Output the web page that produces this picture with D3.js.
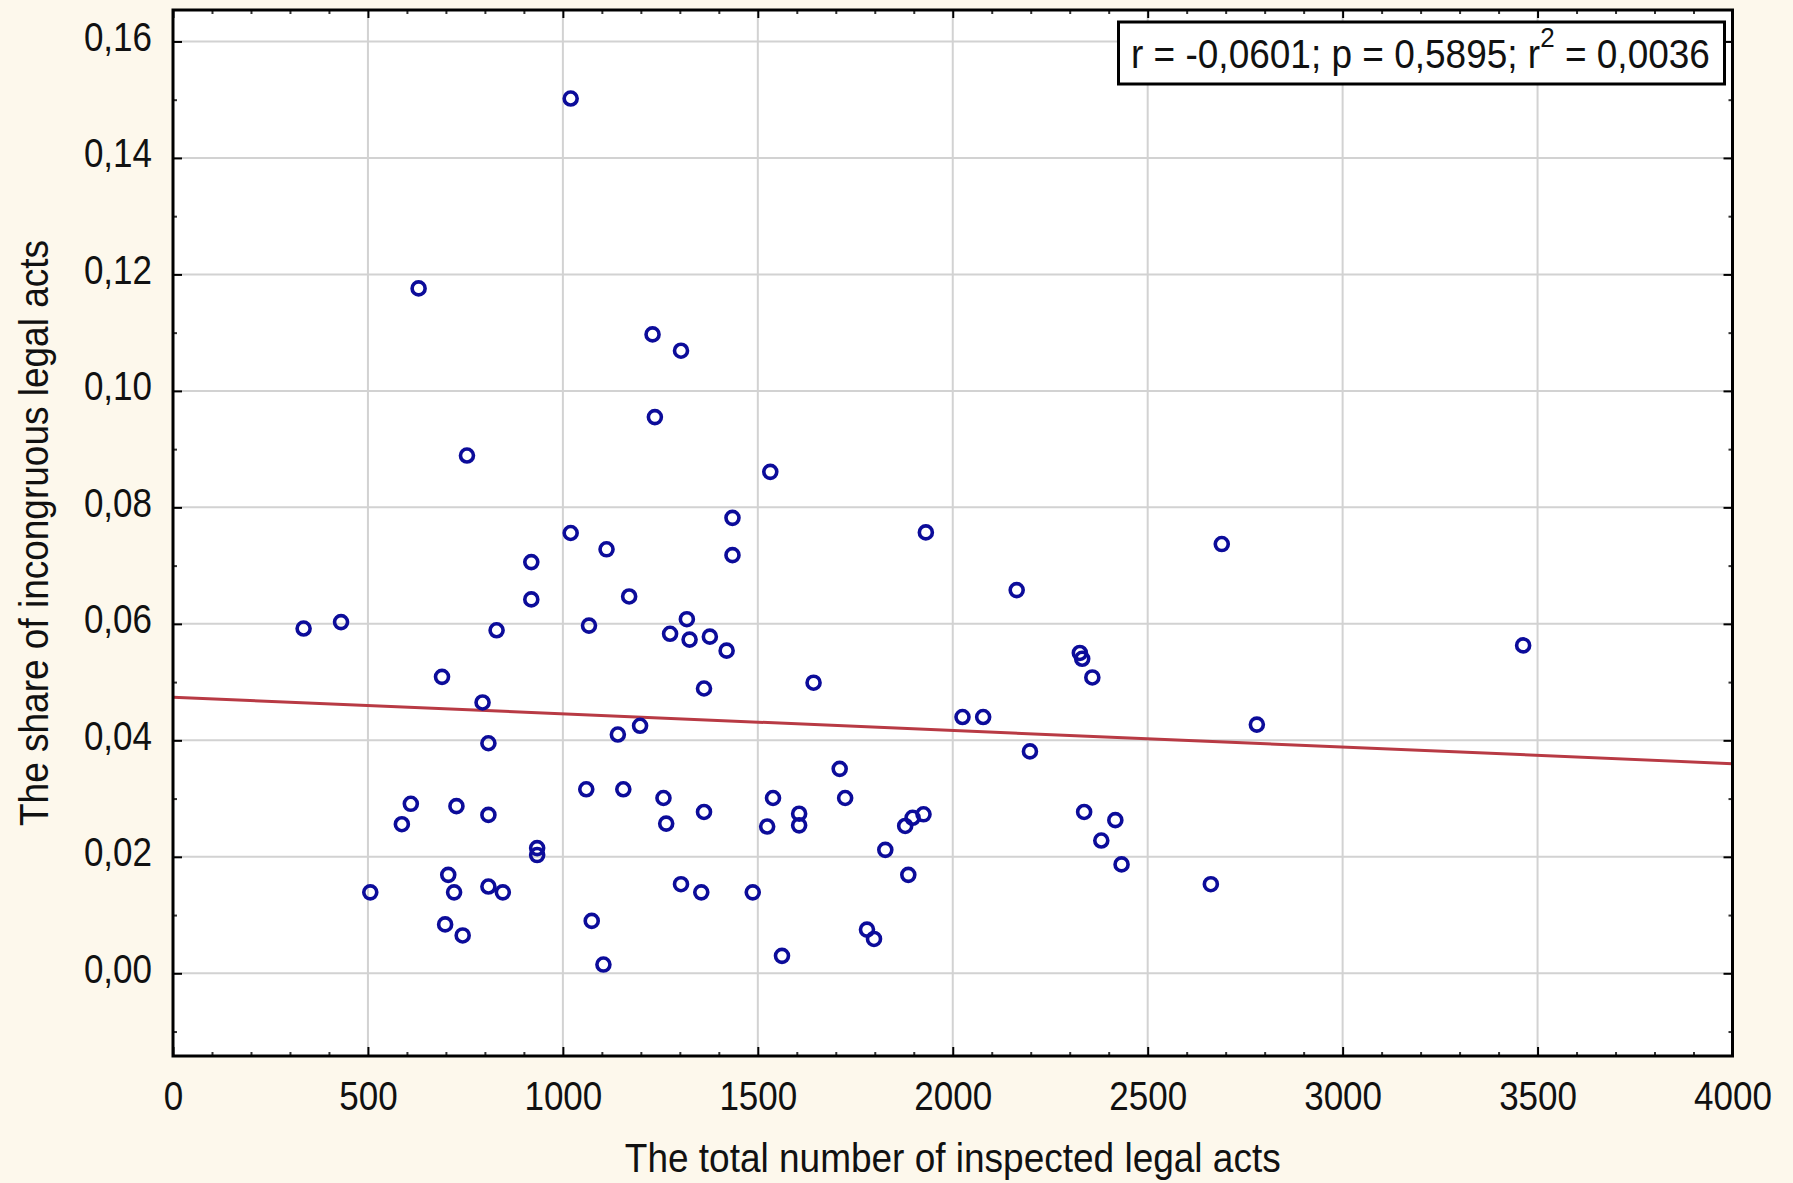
<!DOCTYPE html>
<html>
<head>
<meta charset="utf-8">
<script src="https://cdn.jsdelivr.net/npm/d3@7"></script>
<style>
  html, body { margin: 0; padding: 0; background: #fdf8ec; }
  svg { display: block; }
  text { font-family: "Liberation Sans", Arial, sans-serif; fill: #111; }
</style>
</head>
<body>
<svg id="chart" width="1793" height="1183"></svg>
<script>
// ---- data ----
const totalActs = [
  1020, 630, 1230, 1303, 1236, 754, 1532, 1435, 1020, 1931,
  2690, 1112, 1435, 919, 2164, 1170, 919, 1318, 431, 1067,
  335, 830, 1275, 1377, 1325, 3463, 1420, 2326, 2332, 2358,
  690, 1643, 1362, 794, 2025, 2078, 2780, 1198, 1141, 809,
  2198, 1710, 1060, 1155, 610, 1258, 1539, 1724, 727, 1362,
  2337, 809, 1606, 1925, 1897, 2417, 587, 1265, 1606, 1524,
  1878, 2381, 1827, 934, 934, 2433, 706, 1886, 2662, 1303,
  809, 506, 721, 846, 1355, 1487, 1074, 698, 1780, 743,
  1798, 1562, 1104
];
const shareIncongruous = [
  0.1502, 0.1176, 0.1097, 0.1069, 0.0955, 0.0889, 0.0861, 0.0782, 0.0756, 0.0757,
  0.0737, 0.0728, 0.0718, 0.0706, 0.0658, 0.0647, 0.0642, 0.0608, 0.0603, 0.0597,
  0.0592, 0.0589, 0.0583, 0.0578, 0.0573, 0.0563, 0.0554, 0.0550, 0.0540, 0.0508,
  0.0509, 0.0499, 0.0489, 0.0465, 0.0440, 0.0440, 0.0427, 0.0425, 0.0410, 0.0395,
  0.0381, 0.0351, 0.0316, 0.0316, 0.0291, 0.0301, 0.0301, 0.0301, 0.0287, 0.0277,
  0.0277, 0.0272, 0.0274, 0.0273, 0.0267, 0.0263, 0.0256, 0.0257, 0.0254, 0.0252,
  0.0253, 0.0228, 0.0212, 0.0215, 0.0203, 0.0187, 0.0169, 0.0169, 0.0153, 0.0153,
  0.0149, 0.0139, 0.0139, 0.0139, 0.0139, 0.0139, 0.0090, 0.0084, 0.0075, 0.0065,
  0.0059, 0.0030, 0.0015
];
// fitted regression line (endpoints)
const fitX = [0, 4000];
const fitY = [0.0474, 0.0360];

const xTicks = [0, 500, 1000, 1500, 2000, 2500, 3000, 3500, 4000];
const xMinorTicks = d3.range(0, 4001, 100).filter(v => v % 500 !== 0);
const yTicks = [0, 0.02, 0.04, 0.06, 0.08, 0.10, 0.12, 0.14, 0.16];
const yMinorTicks = [-0.01, 0.01, 0.03, 0.05, 0.07, 0.09, 0.11, 0.13, 0.15];
const xDomain = [0, 4000];
const yDomain = [-0.0142, 0.1654];

const xTitle = "The total number of inspected legal acts";
const yTitle = "The share of incongruous legal acts";
const statMain = "r = -0,0601; p = 0,5895; r";
const statSup = "2";
const statTail = " = 0,0036";

// ---- layout ----
const W = 1793, H = 1183;
const plot = { left: 173, right: 1732.5, top: 10, bottom: 1056 };

const svg = d3.select("#chart");
svg.append("rect").attr("width", W).attr("height", H).attr("fill", "#fdf8ec");

const x = d3.scaleLinear().domain(xDomain).range([plot.left, plot.right]);
const y = d3.scaleLinear().domain(yDomain).range([plot.bottom, plot.top]);

// plot background
svg.append("rect")
  .attr("x", plot.left).attr("y", plot.top)
  .attr("width", plot.right - plot.left).attr("height", plot.bottom - plot.top)
  .attr("fill", "#ffffff");

// grid
const grid = svg.append("g").attr("stroke", "#d2d2d2").attr("stroke-width", 2);
grid.selectAll("line.gx").data(xTicks.filter(v => v > xDomain[0] && v < xDomain[1]))
  .join("line").attr("class", "gx")
  .attr("x1", d => x(d)).attr("x2", d => x(d))
  .attr("y1", plot.top).attr("y2", plot.bottom);
grid.selectAll("line.gy").data(yTicks)
  .join("line").attr("class", "gy")
  .attr("x1", plot.left).attr("x2", plot.right)
  .attr("y1", d => y(d)).attr("y2", d => y(d));

// regression line
const line = d3.line().x(d => x(d[0])).y(d => y(d[1]));
svg.append("path")
  .datum(fitX.map((v, i) => [v, fitY[i]]))
  .attr("d", line)
  .attr("fill", "none")
  .attr("stroke", "#b83a44")
  .attr("stroke-width", 3);

// points
svg.append("g")
  .selectAll("circle")
  .data(totalActs.map((v, i) => [v, shareIncongruous[i]]))
  .join("circle")
  .attr("cx", d => x(d[0]))
  .attr("cy", d => y(d[1]))
  .attr("r", 6.5)
  .attr("fill", "none")
  .attr("stroke", "#0c0c9a")
  .attr("stroke-width", 3.6);

// axes
function styleAxis(g, color, width) {
  g.select(".domain").remove();
  g.selectAll(".tick line").attr("stroke", color).attr("stroke-width", width);
}
const fmtY = v => d3.format(".2f")(v).replace(".", ",");

// bottom
const gB = svg.append("g").attr("transform", `translate(0,${plot.bottom})`)
  .call(d3.axisBottom(x).tickValues(xTicks).tickFormat(d3.format("d"))
    .tickSizeInner(-9).tickSizeOuter(0).tickPadding(0));
styleAxis(gB, "#000", 2);
gB.selectAll(".tick text")
  .attr("y", 0).attr("dy", 0)
  .attr("transform", "translate(0,54) scale(1,1.17)")
  .attr("font-size", 35).attr("fill", "#111");
const gBm = svg.append("g").attr("transform", `translate(0,${plot.bottom})`)
  .call(d3.axisBottom(x).tickValues(xMinorTicks).tickFormat("")
    .tickSizeInner(-4).tickSizeOuter(0));
styleAxis(gBm, "#333", 2);

// top
const gT = svg.append("g").attr("transform", `translate(0,${plot.top})`)
  .call(d3.axisTop(x).tickValues(xTicks).tickFormat("")
    .tickSizeInner(-8).tickSizeOuter(0));
styleAxis(gT, "#000", 2);
const gTm = svg.append("g").attr("transform", `translate(0,${plot.top})`)
  .call(d3.axisTop(x).tickValues(xMinorTicks).tickFormat("")
    .tickSizeInner(-4).tickSizeOuter(0));
styleAxis(gTm, "#333", 2);

// left
const gL = svg.append("g").attr("transform", `translate(${plot.left},0)`)
  .call(d3.axisLeft(y).tickValues(yTicks).tickFormat(fmtY)
    .tickSizeInner(-9).tickSizeOuter(0).tickPadding(21));
styleAxis(gL, "#000", 2);
gL.selectAll(".tick text")
  .attr("x", 0).attr("dy", 0)
  .attr("transform", "translate(-21,9) scale(1,1.17)")
  .attr("font-size", 35).attr("fill", "#111");
const gLm = svg.append("g").attr("transform", `translate(${plot.left},0)`)
  .call(d3.axisLeft(y).tickValues(yMinorTicks).tickFormat("")
    .tickSizeInner(-4).tickSizeOuter(0));
styleAxis(gLm, "#333", 2);

// right
const gR = svg.append("g").attr("transform", `translate(${plot.right},0)`)
  .call(d3.axisRight(y).tickValues(yTicks).tickFormat("")
    .tickSizeInner(-9).tickSizeOuter(0));
styleAxis(gR, "#000", 2);
const gRm = svg.append("g").attr("transform", `translate(${plot.right},0)`)
  .call(d3.axisRight(y).tickValues(yMinorTicks).tickFormat("")
    .tickSizeInner(-4).tickSizeOuter(0));
styleAxis(gRm, "#333", 2);

// frame
svg.append("rect")
  .attr("x", plot.left).attr("y", plot.top)
  .attr("width", plot.right - plot.left).attr("height", plot.bottom - plot.top)
  .attr("fill", "none").attr("stroke", "#000").attr("stroke-width", 3);

// axis titles
svg.append("text")
  .attr("transform", `translate(${(plot.left + plot.right) / 2},1172) scale(1,1.09)`)
  .attr("text-anchor", "middle").attr("font-size", 37)
  .text(xTitle);
svg.append("text")
  .attr("transform", `translate(48,${(plot.top + plot.bottom) / 2}) rotate(-90) scale(1,1.09)`)
  .attr("text-anchor", "middle").attr("font-size", 37)
  .text(yTitle);

// statistics box
const box = { x: 1118.5, y: 22, w: 606, h: 62 };
svg.append("rect")
  .attr("x", box.x).attr("y", box.y).attr("width", box.w).attr("height", box.h)
  .attr("fill", "#fff").attr("stroke", "#000").attr("stroke-width", 3);
const st = svg.append("text")
  .attr("transform", "translate(1131,68) scale(1,1.09)")
  .attr("font-size", 37);
st.append("tspan").text(statMain);
st.append("tspan").attr("font-size", 26).attr("dy", -19).text(statSup);
st.append("tspan").attr("dy", 19).text(statTail);
</script>
</body>
</html>
